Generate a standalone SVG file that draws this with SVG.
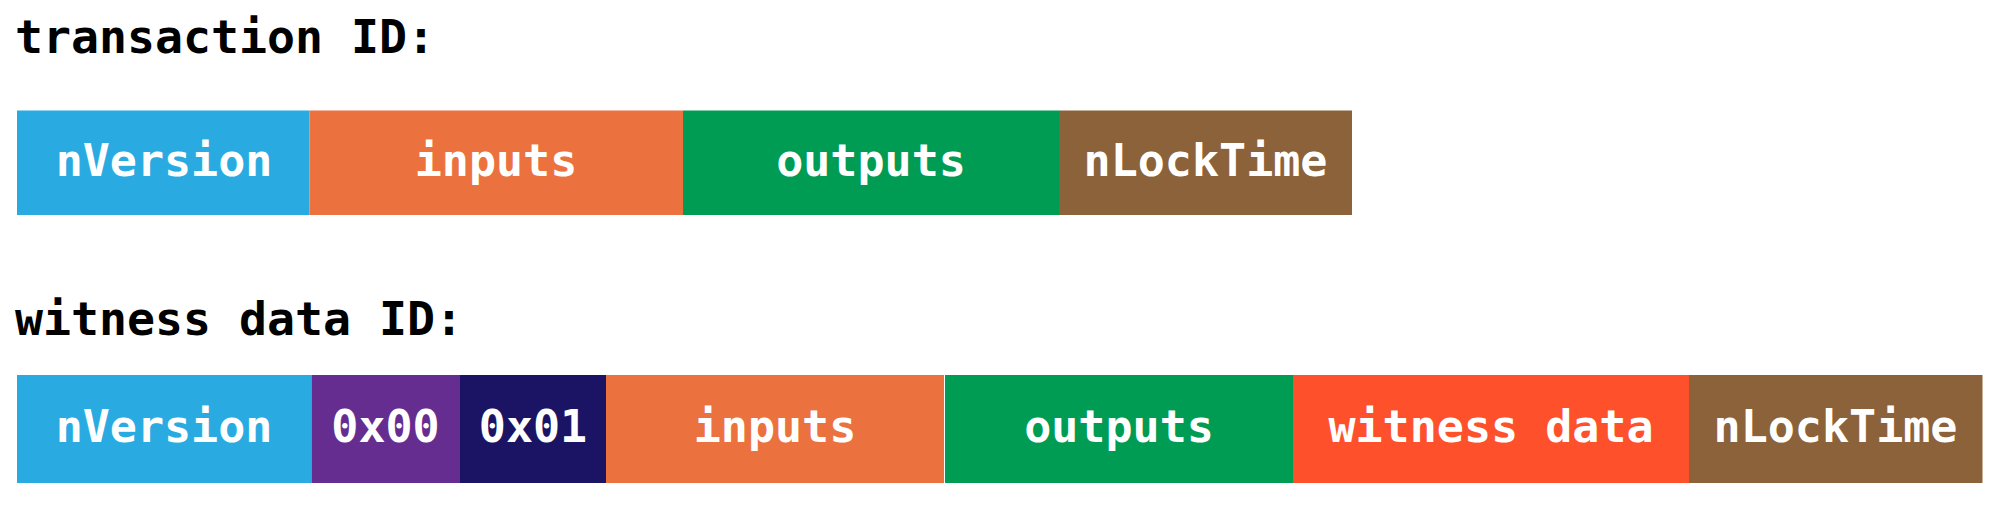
<svg xmlns="http://www.w3.org/2000/svg" width="1999" height="508" viewBox="0 0 1999 508">
<style>
.title{font-family:"DejaVu Sans Mono","Liberation Mono",monospace;font-weight:bold;font-size:46.5px;fill:#000}
.lbl{font-family:"DejaVu Sans Mono","Liberation Mono",monospace;font-weight:bold;font-size:45px;fill:#fff;text-anchor:middle}
.blue{fill:#29ABE2}.orange{fill:#EB723F}.green{fill:#009C53}.brown{fill:#8B623A}
.purple{fill:#662D91}.navy{fill:#1B1464}.red{fill:#FF502C}
</style>
<rect width="1999" height="508" fill="#fff"/>
<text class="title" x="15" y="53">transaction ID:</text>
<text class="title" x="15" y="335">witness data ID:</text>
<g id="tx-nVersion"><rect class="blue" x="17" y="110.5" width="292.5" height="104.5"/><text class="lbl" x="164" y="176">nVersion</text></g>
<g id="tx-inputs"><rect class="orange" x="309.5" y="110.5" width="373.5" height="104.5"/><text class="lbl" x="496" y="176">inputs</text></g>
<g id="tx-outputs"><rect class="green" x="683" y="110.5" width="376" height="104.5"/><text class="lbl" x="871" y="176">outputs</text></g>
<g id="tx-nLockTime"><rect class="brown" x="1059" y="110.5" width="293" height="104.5"/><text class="lbl" x="1205.5" y="176">nLockTime</text></g>
<g id="wtx-nVersion"><rect class="blue" x="17" y="375" width="294.5" height="108"/><text class="lbl" x="164" y="442">nVersion</text></g>
<g id="wtx-marker"><rect class="purple" x="311.5" y="375" width="148.5" height="108"/><text class="lbl" x="385.5" y="442">0x00</text></g>
<g id="wtx-flag"><rect class="navy" x="460" y="375" width="146" height="108"/><text class="lbl" x="533" y="442">0x01</text></g>
<g id="wtx-inputs"><rect class="orange" x="606" y="375" width="338" height="108"/><text class="lbl" x="775" y="442">inputs</text></g>
<g id="wtx-outputs"><rect class="green" x="945" y="375" width="348" height="108"/><text class="lbl" x="1119" y="442">outputs</text></g>
<g id="wtx-witness"><rect class="red" x="1293" y="375" width="396" height="108"/><text class="lbl" x="1491" y="442">witness data</text></g>
<g id="wtx-nLockTime"><rect class="brown" x="1689" y="375" width="293.5" height="108"/><text class="lbl" x="1835.5" y="442">nLockTime</text></g>
<g id="connectors"></g>
</svg>
